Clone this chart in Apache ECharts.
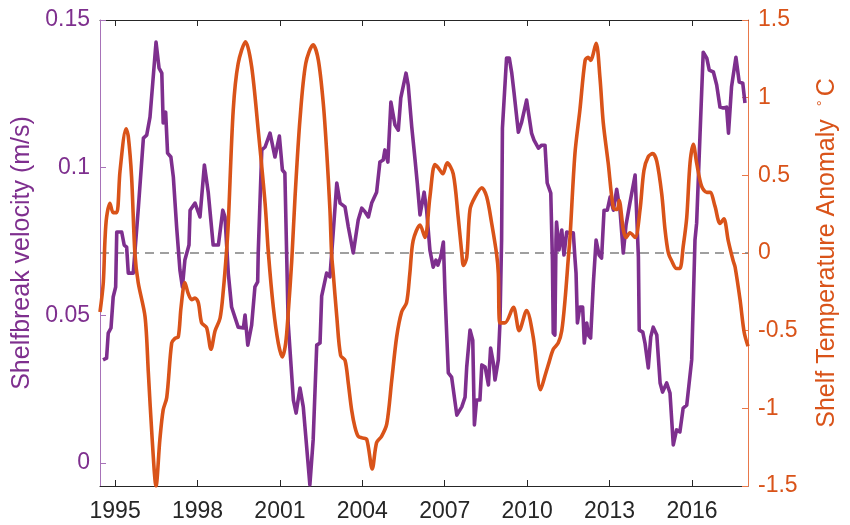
<!DOCTYPE html>
<html><head><meta charset="utf-8">
<script src="https://cdn.jsdelivr.net/npm/echarts@6/dist/echarts.min.js"></script>
<style>html,body{margin:0;padding:0;background:#fff}#c{width:850px;height:525px}</style>
</head><body><div id="c"></div>
<script>
const yearTicks = [1995, 1998, 2001, 2004, 2007, 2010, 2013, 2016];
const velTicks = [0, 0.05, 0.1, 0.15];
const tempTicks = [-1.5, -1, -0.5, 0, 0.5, 1, 1.5];

const velYears = [1994.56,1994.69,1994.75,1994.85,1994.93,1995.02,1995.06,1995.24,1995.33,1995.42,1995.48,1995.66,1995.72,1995.84,1996.03,1996.15,1996.27,1996.49,1996.60,1996.70,1996.75,1996.84,1996.91,1997.03,1997.12,1997.24,1997.36,1997.45,1997.54,1997.69,1997.73,1997.91,1998.09,1998.25,1998.39,1998.57,1998.76,1998.92,1999.00,1999.12,1999.24,1999.48,1999.67,1999.73,1999.83,1999.97,2000.09,2000.19,2000.21,2000.34,2000.46,2000.64,2000.82,2000.98,2001.09,2001.18,2001.30,2001.49,2001.59,2001.73,2001.85,2002.09,2002.21,2002.34,2002.46,2002.52,2002.70,2002.82,2002.92,2003.07,2003.19,2003.37,2003.49,2003.67,2003.85,2003.98,2004.10,2004.22,2004.34,2004.52,2004.64,2004.76,2004.82,2004.93,2005.04,2005.19,2005.31,2005.40,2005.59,2005.67,2005.80,2005.92,2006.00,2006.10,2006.25,2006.34,2006.46,2006.58,2006.68,2006.75,2006.85,2006.95,2007.01,2007.13,2007.25,2007.44,2007.62,2007.74,2007.80,2007.92,2008.02,2008.08,2008.16,2008.28,2008.35,2008.47,2008.59,2008.67,2008.77,2008.83,2008.95,2009.01,2009.07,2009.10,2009.17,2009.25,2009.35,2009.44,2009.52,2009.59,2009.68,2009.80,2009.98,2010.09,2010.16,2010.25,2010.41,2010.53,2010.65,2010.73,2010.86,2010.92,2010.95,2011.01,2011.05,2011.07,2011.16,2011.26,2011.34,2011.44,2011.56,2011.68,2011.74,2011.78,2011.83,2011.92,2012.02,2012.08,2012.17,2012.23,2012.31,2012.41,2012.51,2012.62,2012.71,2012.80,2012.92,2013.02,2013.14,2013.26,2013.38,2013.50,2013.60,2013.74,2013.93,2014.05,2014.08,2014.21,2014.29,2014.41,2014.50,2014.59,2014.72,2014.84,2014.93,2015.08,2015.20,2015.32,2015.44,2015.56,2015.68,2015.81,2015.99,2016.11,2016.17,2016.29,2016.41,2016.54,2016.63,2016.78,2016.90,2017.02,2017.14,2017.26,2017.33,2017.44,2017.60,2017.72,2017.85,2017.93];
const velValues = [0.0349,0.0355,0.0440,0.0457,0.0562,0.0596,0.0782,0.0782,0.0738,0.0731,0.0643,0.0643,0.0647,0.0856,0.1100,0.1110,0.1171,0.1425,0.1337,0.1320,0.1151,0.1188,0.1049,0.1036,0.0968,0.0799,0.0653,0.0596,0.0687,0.0738,0.0856,0.0880,0.0833,0.1009,0.0917,0.0738,0.0738,0.0856,0.0833,0.0643,0.0528,0.0460,0.0457,0.0501,0.0399,0.0467,0.0596,0.0613,0.0711,0.1060,0.1070,0.1117,0.1036,0.1107,0.0992,0.0982,0.0474,0.0213,0.0169,0.0254,0.0190,-0.0074,0.0078,0.0399,0.0406,0.0565,0.0643,0.0630,0.0755,0.0948,0.0880,0.0867,0.0799,0.0711,0.0823,0.0863,0.0850,0.0833,0.0880,0.0917,0.1019,0.1026,0.1060,0.1019,0.1222,0.1144,0.1127,0.1236,0.1320,0.1280,0.1137,0.1026,0.0948,0.0840,0.0917,0.0856,0.0721,0.0663,0.0687,0.0670,0.0697,0.0748,0.0575,0.0305,0.0291,0.0162,0.0190,0.0223,0.0325,0.0450,0.0416,0.0129,0.0213,0.0213,0.0332,0.0325,0.0264,0.0389,0.0338,0.0281,0.0349,0.0474,0.0755,0.1134,0.1137,0.1371,0.1371,0.1320,0.1256,0.1252,0.1120,0.1154,0.1229,0.1161,0.1117,0.1093,0.1066,0.1076,0.1076,0.0948,0.0914,0.0687,0.0440,0.0433,0.0755,0.0816,0.0721,0.0789,0.0704,0.0782,0.0779,0.0779,0.0694,0.0643,0.0474,0.0528,0.0528,0.0406,0.0474,0.0433,0.0423,0.0609,0.0755,0.0704,0.0694,0.0856,0.0856,0.0900,0.0856,0.0927,0.0856,0.0711,0.0806,0.0880,0.0975,0.0697,0.0450,0.0443,0.0406,0.0322,0.0427,0.0460,0.0433,0.0271,0.0240,0.0271,0.0237,0.0061,0.0112,0.0105,0.0186,0.0196,0.0349,0.0755,0.0812,0.1104,0.1391,0.1371,0.1330,0.1324,0.1280,0.1205,0.1202,0.1205,0.1117,0.1273,0.1374,0.1290,0.1286,0.1219];

const tempYears = [1994.45,1994.57,1994.63,1994.69,1994.81,1994.93,1995.06,1995.18,1995.40,1995.48,1995.60,1995.72,1995.84,1996.09,1996.21,1996.35,1996.49,1996.63,1996.75,1996.88,1997.06,1997.18,1997.30,1997.40,1997.54,1997.66,1997.79,1997.91,1998.03,1998.15,1998.33,1998.49,1998.64,1998.82,1998.94,1999.06,1999.12,1999.30,1999.48,1999.75,1999.97,2000.21,2000.46,2000.58,2000.76,2000.94,2001.09,2001.21,2001.30,2001.43,2001.55,2001.73,2001.94,2002.21,2002.40,2002.58,2002.70,2002.82,2002.88,2002.94,2003.07,2003.21,2003.37,2003.49,2003.61,2003.73,2003.85,2003.99,2004.16,2004.36,2004.52,2004.70,2004.89,2005.07,2005.25,2005.43,2005.61,2005.73,2005.85,2006.10,2006.28,2006.46,2006.64,2006.76,2006.93,2007.09,2007.31,2007.49,2007.62,2007.68,2007.80,2007.92,2008.10,2008.35,2008.53,2008.71,2008.89,2008.95,2009.01,2009.19,2009.50,2009.71,2009.98,2010.22,2010.49,2010.65,2010.77,2010.95,2011.13,2011.26,2011.38,2011.50,2011.56,2011.74,2011.92,2012.11,2012.22,2012.31,2012.51,2012.65,2012.77,2012.95,2013.14,2013.28,2013.35,2013.50,2013.60,2013.74,2013.93,2014.11,2014.25,2014.41,2014.57,2014.72,2014.90,2015.02,2015.14,2015.26,2015.44,2015.56,2015.68,2015.81,2015.93,2016.05,2016.17,2016.35,2016.54,2016.66,2016.84,2017.02,2017.16,2017.32,2017.50,2017.57,2017.75,2017.90,2018.04];
const tempValues = [-0.38,-0.19,0.08,0.23,0.32,0.26,0.26,0.53,0.80,0.75,0.49,0.00,-0.19,-0.41,-0.77,-1.20,-1.50,-1.20,-1.01,-0.93,-0.58,-0.55,-0.54,-0.35,-0.19,-0.26,-0.30,-0.29,-0.32,-0.45,-0.48,-0.62,-0.50,-0.42,-0.24,0.02,0.19,0.92,1.22,1.36,1.20,0.79,0.32,0.00,-0.35,-0.58,-0.67,-0.58,-0.39,-0.05,0.36,0.86,1.22,1.34,1.24,0.96,0.66,0.28,0.00,-0.13,-0.41,-0.66,-0.69,-0.84,-1.01,-1.12,-1.18,-1.19,-1.20,-1.39,-1.22,-1.18,-1.10,-0.82,-0.54,-0.38,-0.32,-0.13,0.08,0.18,0.10,0.36,0.57,0.55,0.51,0.58,0.51,0.23,0.00,-0.08,-0.03,0.28,0.36,0.42,0.36,0.19,-0.01,-0.13,-0.45,-0.45,-0.35,-0.50,-0.37,-0.54,-0.88,-0.79,-0.72,-0.62,-0.58,-0.50,-0.30,-0.03,0.10,0.64,0.92,1.24,1.26,1.24,1.35,1.13,0.84,0.58,0.29,0.28,0.34,0.15,0.10,0.13,0.10,0.28,0.53,0.62,0.64,0.59,0.38,0.15,0.00,-0.05,-0.10,-0.10,0.04,0.23,0.58,0.70,0.58,0.43,0.39,0.39,0.30,0.19,0.22,0.08,-0.05,-0.09,-0.30,-0.51,-0.60];

const purple = '#7E2F8E';
const orange = '#D95319';
const font = 'Liberation Sans, Arial, sans-serif';

const chart = echarts.init(document.getElementById('c'), null, {renderer: 'canvas'});
const xCommon = {
  type: 'value', min: 1994.45, max: 2018.04,
  splitLine: {show: false},
  axisLine: {show: true, onZero: false, lineStyle: {color: '#262626', width: 1}},
  axisTick: {show: true, inside: true, length: 6, customValues: yearTicks, lineStyle: {color: '#262626'}},
};
chart.setOption({
  animation: false,
  backgroundColor: '#fff',
  grid: {left: 100, right: 102, top: 20, bottom: 39, containLabel: false},
  xAxis: [
    Object.assign({}, xCommon, {
      position: 'bottom',
      axisLabel: {show: true, customValues: yearTicks, formatter: v => String(Math.round(v)),
        color: '#262626', fontSize: 23, fontFamily: font, margin: 14}
    }),
    Object.assign({}, xCommon, {
      position: 'top',
      axisLabel: {show: false}
    })
  ],
  yAxis: [
    {
      type: 'value', min: -0.0078, max: 0.15, position: 'left',
      splitLine: {show: false},
      axisLine: {show: true, onZero: false, lineStyle: {color: '#A772B8', width: 1}},
      axisTick: {show: true, inside: true, length: 6, customValues: velTicks, lineStyle: {color: '#A772B8'}},
      axisLabel: {customValues: velTicks, color: purple, fontSize: 23, fontFamily: font, margin: 10,
        formatter: v => String(Math.round(v * 100) / 100)},
      name: 'Shelfbreak velocity (m/s)', nameLocation: 'middle', nameGap: 62,
      nameTextStyle: {color: purple, fontSize: 25, fontFamily: font}
    },
    {
      type: 'value', min: -1.5, max: 1.5, interval: 0.5, position: 'right',
      splitLine: {show: false},
      axisLine: {show: true, onZero: false, lineStyle: {color: '#E8784A', width: 1}},
      axisTick: {show: true, inside: true, length: 6, customValues: tempTicks, lineStyle: {color: '#E8784A'}},
      axisLabel: {customValues: tempTicks, color: orange, fontSize: 23, fontFamily: font, margin: 10,
        formatter: v => String(v)},
      name: 'Shelf Temperature Anomaly {deg|°}C', nameLocation: 'middle', nameGap: 67,
      nameTextStyle: {color: orange, fontSize: 25, fontFamily: font,
        rich: {deg: {fontSize: 15, color: orange, fontFamily: font, verticalAlign: 'top', padding: [0, 4, 10, 6]}}}
    }
  ],
  series: [
    {
      type: 'line', name: 'velocity', xAxisIndex: 0, yAxisIndex: 0, z: 3,
      data: velYears.map((y, i) => [y, velValues[i]]),
      showSymbol: false, symbol: 'none',
      lineStyle: {color: purple, width: 3.6, join: 'round'}
    },
    {
      type: 'line', name: 'temperature', xAxisIndex: 0, yAxisIndex: 1, z: 4,
      data: tempYears.map((y, i) => [y, tempValues[i]]),
      showSymbol: false, symbol: 'none', smooth: 0.3,
      lineStyle: {color: orange, width: 3.6, join: 'round'},
      markLine: {
        silent: true, symbol: 'none', z: 1,
        label: {show: false},
        lineStyle: {color: '#808080', type: [9, 6], width: 1.5},
        data: [{yAxis: 0}]
      }
    }
  ]
});
</script>
</body></html>
